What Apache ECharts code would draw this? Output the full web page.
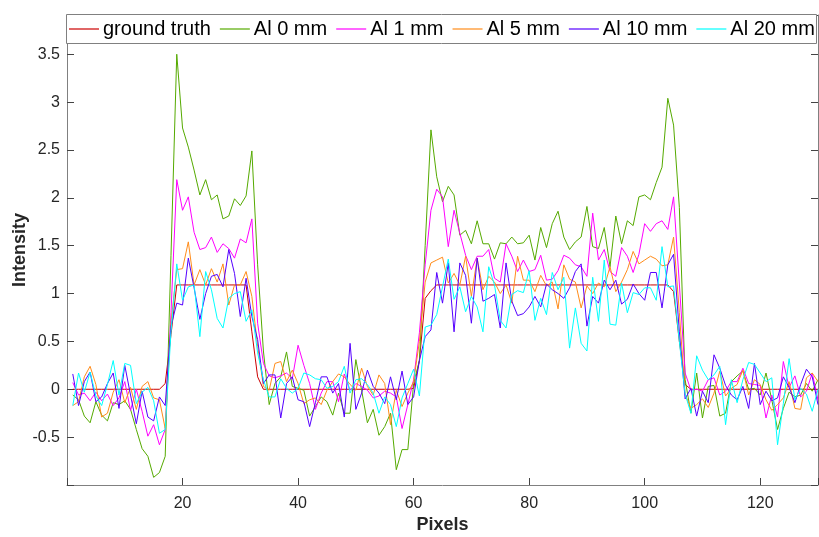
<!DOCTYPE html>
<html>
<head>
<meta charset="utf-8">
<script src="https://cdn.jsdelivr.net/npm/echarts@6/dist/echarts.min.js"></script>
<style>html,body{margin:0;padding:0;background:#fff}#c{width:819px;height:537px}</style>
</head>
<body>
<div id="c"></div>
<script>
const pixels = [1,2,3,4,5,6,7,8,9,10,11,12,13,14,15,16,17,18,19,20,21,22,23,24,25,26,27,28,29,30,31,32,33,34,35,36,37,38,39,40,41,42,43,44,45,46,47,48,49,50,51,52,53,54,55,56,57,58,59,60,61,62,63,64,65,66,67,68,69,70,71,72,73,74,75,76,77,78,79,80,81,82,83,84,85,86,87,88,89,90,91,92,93,94,95,96,97,98,99,100,101,102,103,104,105,106,107,108,109,110,111,112,113,114,115,116,117,118,119,120,121,122,123,124,125,126,127,128,129,130];

const seriesNames = ['ground truth','Al 0 mm','Al 1 mm','Al 5 mm','Al 10 mm','Al 20 mm'];
const seriesColors = ['#cc0000','#55aa00','#ff00ff','#ff8c1a','#5500ff','#00ffff'];

const groundTruth = [
  0,0,0,0,0,0,0,0,0,0,
  0,0,0,0,0,0,0.06,0.57,1.09,1.09,
  1.09,1.09,1.09,1.09,1.09,1.09,1.09,1.09,1.09,1.09,
  1.09,0.6,0.13,0,0,0,0,0,0,0,
  0,0,0,0,0,0,0,0,0,0,
  0,0,0,0,0,0,0,0,0,0.01,
  0.3,0.95,1.03,1.09,1.09,1.09,1.09,1.09,1.09,1.09,
  1.09,1.09,1.09,1.09,1.09,1.09,1.09,1.09,1.09,1.09,
  1.09,1.09,1.09,1.09,1.09,1.09,1.09,1.09,1.09,1.09,
  1.09,1.09,1.09,1.09,1.09,1.09,1.09,1.09,1.09,1.09,
  1.09,1.09,1.09,1.09,1.02,0.5,0.05,0,0,0,
  0,0,0,0,0,0,0,0,0,0,
  0,0,0,0,0,0,0,0,0,0];

const al0 = [
  -0.06,-0.11,-0.28,-0.35,-0.13,-0.27,-0.33,-0.14,-0.16,-0.12,
  -0.21,-0.42,-0.62,-0.70,-0.92,-0.87,-0.70,1.4,3.50,2.73,
  2.53,2.29,2.03,2.19,1.98,2.03,1.78,1.81,1.99,1.92,
  2.02,2.49,1.3,0.4,-0.16,0.06,0.13,0.39,0.03,0.01,
  -0.01,-0.28,-0.18,-0.08,-0.13,-0.27,-0.04,-0.25,-0.25,0.31,
  -0.01,-0.35,-0.21,-0.48,-0.39,-0.25,-0.84,-0.63,-0.63,0.06,
  0.3,1.5,2.71,2.22,1.96,2.12,2.03,1.61,1.66,1.52,
  1.76,1.52,1.52,1.36,1.53,1.52,1.59,1.52,1.53,1.61,
  1.35,1.69,1.48,1.73,1.86,1.59,1.46,1.54,1.59,1.91,
  1.49,1.47,1.69,1.28,1.81,1.52,1.76,1.71,2.01,2.03,
  1.98,2.16,2.32,3.04,2.76,1.9,0.1,-0.25,0.17,-0.30,
  0.03,0.04,-0.28,-0.25,0.08,0.14,0.19,0.0,0.01,-0.06,
  0.17,-0.11,-0.42,-0.20,-0.03,-0.08,-0.06,0.06,-0.02,0.1];

const al1 = [
  0.07,-0.06,-0.04,-0.12,-0.03,-0.12,-0.05,-0.17,-0.09,0.08,
  -0.22,0.0,-0.23,-0.49,-0.37,-0.58,-0.42,0.8,2.19,1.87,
  2.01,1.64,1.46,1.48,1.59,1.43,1.52,1.47,1.37,1.57,
  1.53,1.78,0.69,0.27,0.14,0.12,0.14,0.17,0.11,0.46,
  0.25,0.06,-0.21,-0.04,0.08,0.08,-0.13,0.16,-0.01,0.06,
  0.03,-0.01,-0.09,-0.07,-0.02,-0.04,-0.08,-0.41,-0.16,0.10,
  0.59,1.3,1.87,2.09,2.01,1.49,1.87,1.63,1.40,1.25,
  1.39,1.39,1.46,1.16,1.12,1.52,1.39,1.23,1.35,1.23,
  1.25,1.40,1.14,1.15,1.24,1.40,1.37,1.30,1.28,1.18,
  1.84,1.35,1.46,1.23,1.18,1.48,1.39,1.22,1.41,1.73,
  1.65,1.73,1.76,1.67,2.01,1.1,0.17,-0.01,0.0,-0.02,
  0.1,0.12,-0.06,-0.02,0.08,0.08,0.22,0.06,0.05,0.04,
  -0.30,-0.06,-0.29,0.29,0.02,0.14,-0.08,-0.02,0.17,-0.11];

const al5 = [
  -0.17,-0.13,0.13,0.24,0.05,-0.29,-0.25,-0.03,0.10,-0.14,
  0.02,-0.21,0.03,0.08,-0.09,-0.11,-0.41,0.7,1.25,1.26,
  1.54,1.09,1.25,1.09,1.26,1.12,1.31,0.88,1.09,1.09,
  1.23,0.97,0.45,0.03,-0.01,0.27,0.29,0.08,0.20,0.06,
  -0.15,-0.11,-0.09,-0.16,-0.01,0.08,0.16,0.13,0.05,-0.01,
  0.22,0.03,-0.06,0.15,0.06,-0.37,-0.01,-0.18,-0.04,0.08,
  0.5,1.12,1.32,1.35,1.38,1.11,1.21,1.09,1.39,0.97,
  1.37,1.04,1.18,1.12,1.0,1.09,0.90,1.39,1.14,1.14,
  1.02,1.19,1.08,1.12,0.84,1.30,1.15,1.12,0.85,1.08,
  1.0,1.11,1.07,1.28,1.02,1.12,1.25,1.44,1.31,1.35,
  1.39,1.36,1.29,1.30,1.59,0.8,-0.05,-0.20,-0.16,-0.10,
  -0.19,-0.04,0.19,-0.07,0.01,0.05,0.20,-0.06,0.10,0.05,
  -0.11,-0.22,-0.16,-0.09,0.08,-0.20,-0.21,0.12,0.17,0.08];

const al10 = [
  0.16,-0.17,0.08,0.18,-0.13,-0.08,0.06,0.17,-0.20,0.25,
  -0.06,-0.36,-0.02,-0.29,-0.33,-0.08,-0.17,0.66,0.90,0.88,
  1.37,1.06,0.73,1.0,1.18,1.20,1.07,1.46,1.21,0.76,
  1.16,0.76,0.52,0.06,0.15,0.15,-0.30,0.06,0.13,-0.11,
  -0.13,-0.39,-0.14,0.13,0.13,-0.04,0.06,-0.29,0.48,-0.21,
  -0.04,0.20,0.03,-0.04,-0.15,0.13,-0.11,0.19,-0.16,-0.08,
  0.3,0.55,0.62,1.22,0.90,1.32,0.60,1.32,1.19,0.69,
  1.37,0.92,0.95,0.99,0.64,1.32,0.92,0.77,0.79,0.86,
  0.97,0.86,1.10,1.04,1.0,0.95,1.06,1.23,1.31,0.66,
  0.97,0.90,1.14,1.04,1.14,0.89,0.94,1.10,1.0,0.93,
  1.22,1.22,0.85,1.30,1.41,0.6,-0.1,0.01,-0.28,-0.02,
  -0.14,0.36,0.22,0.04,-0.06,-0.11,0.03,-0.20,0.27,-0.16,
  -0.02,-0.12,-0.09,0.13,0.02,-0.14,0.05,0.21,0.13,-0.16];

const al20 = [
  -0.17,0.17,-0.03,0.18,-0.07,-0.17,0.05,0.30,-0.06,0.27,
  0.25,-0.15,-0.03,0.02,-0.12,-0.46,-0.42,0.6,1.31,0.93,
  1.07,1.09,0.55,1.23,1.04,0.74,0.64,0.95,1.0,1.02,
  0.71,0.83,0.38,0.1,-0.08,-0.08,0.11,0.01,-0.04,0.01,
  0.17,0.15,0.11,0.10,0.01,0.03,0.08,0.24,-0.04,0.10,
  0.11,0.05,-0.04,-0.25,-0.08,-0.16,-0.39,-0.09,0.06,0.21,
  -0.07,0.65,0.67,0.78,1.07,1.36,0.94,1.07,0.81,0.97,
  0.86,0.60,1.28,1.09,0.72,0.64,0.99,1.03,1.01,1.24,
  0.72,0.95,0.78,1.22,1.04,1.17,0.43,0.85,0.48,0.40,
  1.17,0.71,1.35,0.68,0.67,1.11,0.80,1.01,0.99,1.06,
  1.06,0.93,1.49,1.07,1.08,0.5,-0.05,-0.25,0.35,0.2,
  0.10,0.15,0.24,-0.37,0.10,-0.14,0.10,0.28,0.26,0.17,
  0.08,0.12,-0.58,-0.15,0.32,-0.11,0.01,-0.05,-0.23,0.0];

const xTicks = [20,40,60,80,100,120];
const yTicks = [-0.5,0,0.5,1,1.5,2,2.5,3,3.5];

const allData = [groundTruth, al0, al1, al5, al10, al20];
const FONT = 'Liberation Sans, Arial, Helvetica, sans-serif';
const AX = '#808080';
const TX = '#262626';

function near(v, arr){ return arr.some(t => Math.abs(t - v) < 1e-6); }

const chart = echarts.init(document.getElementById('c'), null, {renderer: 'canvas'});
const series = allData.map((d, i) => ({
  name: seriesNames[i],
  type: 'line',
  data: d.map((v, j) => [pixels[j], v]),
  symbol: 'none',
  showSymbol: false,
  animation: false,
  lineStyle: {color: seriesColors[i], width: 1},
  itemStyle: {color: seriesColors[i]},
  z: 2 + i
}));

const yBase = {
  type: 'value', min: -1, max: 3.91, interval: 0.5,
  axisLine: {show: true, lineStyle: {color: AX, width: 1}},
  axisTick: {show: true, inside: true, length: 7, lineStyle: {color: '#444'}},
  splitLine: {show: false}
};

chart.setOption({
  animation: false,
  backgroundColor: '#fff',
  grid: {left: 67, right: 1, top: 15, bottom: 52, containLabel: false, outerBoundsMode: 'none'},
  xAxis: [{
    type: 'value', min: 0, max: 130, interval: 20,
    axisLine: {show: true, onZero: false, lineStyle: {color: AX, width: 1}},
    axisTick: {show: true, inside: true, length: 7, lineStyle: {color: '#444'}},
    splitLine: {show: false},
    axisLabel: {
      fontSize: 16, fontFamily: FONT, color: TX, margin: 11,
      formatter: v => near(v, xTicks) ? String(v) : ''
    },
    name: 'Pixels', nameLocation: 'middle', nameGap: 31, nameMoveOverlap: false,
    nameTextStyle: {fontSize: 18, fontWeight: 'bold', fontFamily: FONT, color: TX}
  }],
  yAxis: [Object.assign({}, yBase, {
    position: 'left',
    axisLabel: {
      fontSize: 16, fontFamily: FONT, color: TX, margin: 7,
      formatter: v => near(v, yTicks) ? String(Math.round(v * 10) / 10) : ''
    },
    name: 'Intensity', nameLocation: 'middle', nameGap: 38, nameRotate: 90, nameMoveOverlap: false,
    nameTextStyle: {fontSize: 18, fontWeight: 'bold', fontFamily: FONT, color: TX}
  }), Object.assign({}, yBase, {
    position: 'right',
    axisLabel: {show: false}
  })],
  legend: {
    show: true, left: 69, top: 19, padding: 0,
    icon: 'rect', itemWidth: 30, itemHeight: 1.2, itemGap: 9,
    data: seriesNames,
    textStyle: {fontSize: 20, fontFamily: FONT, color: '#000', padding: [0, 0, 0, -1]},
    z: 10
  },
  graphic: [{
    type: 'rect', z: 9, silent: true,
    shape: {x: 66.5, y: 14.5, width: 750, height: 29},
    style: {fill: '#fff', stroke: AX, lineWidth: 1}
  }],
  series: series
});
</script>
</body>
</html>
